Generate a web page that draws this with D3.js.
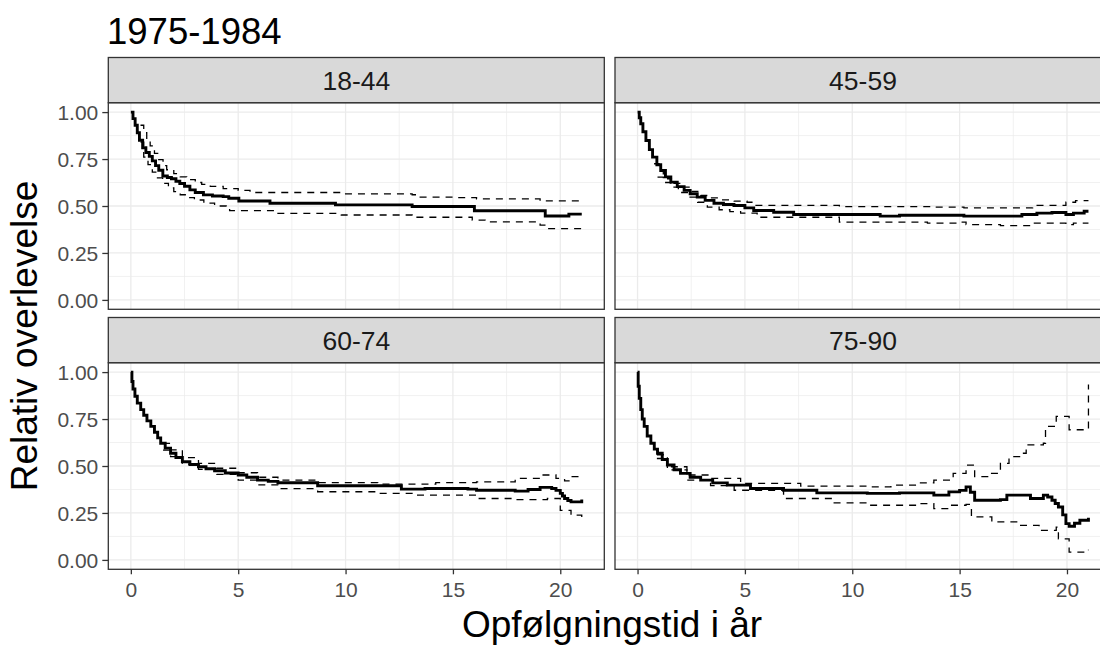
<!DOCTYPE html>
<html>
<head>
<meta charset="utf-8">
<script src="https://cdn.jsdelivr.net/npm/d3@7"></script>
<style>
  body { margin: 0; background: #fff; }
  svg { display: block; font-family: "Liberation Sans", Arial, sans-serif; }
</style>
</head>
<body>
<svg id="chart" width="1100" height="646"></svg>
<script>
// ---------------- data ----------------
const title = "1975-1984";
const xLabel = "Opfølgningstid i år";
const yLabel = "Relativ overlevelse";
const panels = ["18-44", "45-59", "60-74", "75-90"];
const xTicks = [0, 5, 10, 15, 20];
const yTicks = [0, 0.25, 0.5, 0.75, 1];
const yTickLabels = ["0.00", "0.25", "0.50", "0.75", "1.00"];

// 18-44
const t1844 = [0, 0.1, 0.2, 0.3, 0.4, 0.55, 0.7, 0.86, 1.0, 1.15, 1.3, 1.49, 1.7, 1.89, 2.1, 2.28, 2.5, 2.75, 3.0, 3.38, 3.8, 4.3, 4.56, 5.03, 6.48, 9.53, 13.1, 16.0, 19.3, 20.4, 21.0];
const est1844 = [1.0, 0.965, 0.93, 0.89, 0.85, 0.81, 0.785, 0.764, 0.74, 0.715, 0.69, 0.66, 0.652, 0.645, 0.632, 0.62, 0.605, 0.586, 0.572, 0.559, 0.553, 0.55, 0.541, 0.527, 0.515, 0.506, 0.497, 0.475, 0.447, 0.457, 0.457];
const tU1844 = [0.45, 0.6, 0.74, 0.9, 1.1, 1.3, 1.5, 1.67, 2.0, 2.3, 2.6, 3.0, 3.3, 3.7, 4.3, 5.0, 5.55, 9.8, 13.1, 13.3, 15.2, 16.1, 19.06, 19.3, 21.0];
const up1844 = [0.93, 0.89, 0.854, 0.82, 0.78, 0.747, 0.715, 0.693, 0.672, 0.655, 0.64, 0.625, 0.615, 0.604, 0.593, 0.583, 0.572, 0.565, 0.56, 0.547, 0.545, 0.538, 0.532, 0.527, 0.527];
const tL1844 = [0.45, 0.6, 0.8, 1.0, 1.2, 1.48, 1.75, 2.0, 2.3, 2.6, 2.96, 3.4, 3.9, 4.44, 4.6, 6.8, 9.8, 13.1, 15.9, 16.5, 19.06, 19.4, 21.0];
const lo1844 = [0.84, 0.76, 0.72, 0.68, 0.65, 0.62, 0.597, 0.577, 0.56, 0.545, 0.532, 0.515, 0.50, 0.488, 0.475, 0.461, 0.452, 0.44, 0.425, 0.416, 0.398, 0.38, 0.38];

// 45-59
const t4559 = [0, 0.08, 0.15, 0.25, 0.39, 0.55, 0.7, 0.9, 1.08, 1.3, 1.55, 1.85, 2.17, 2.45, 2.78, 3.15, 3.56, 4.0, 4.49, 5.0, 5.41, 6.34, 7.27, 11.3, 12.2, 15.2, 17.9, 18.6, 19.3, 19.95, 20.3, 20.8, 21.0];
const est4559 = [1.0, 0.97, 0.938, 0.895, 0.849, 0.80, 0.76, 0.72, 0.689, 0.655, 0.627, 0.603, 0.583, 0.565, 0.547, 0.53, 0.515, 0.508, 0.503, 0.49, 0.476, 0.467, 0.455, 0.446, 0.451, 0.446, 0.455, 0.462, 0.465, 0.455, 0.462, 0.472, 0.472];
const tU4559 = [0.77, 1.0, 1.2, 1.4, 1.7, 2.0, 2.4, 2.94, 3.4, 3.87, 4.5, 5.1, 5.41, 9.4, 13.8, 15.2, 18.4, 19.95, 20.4, 21.0];
const up4559 = [0.725, 0.69, 0.665, 0.645, 0.62, 0.60, 0.578, 0.556, 0.543, 0.533, 0.526, 0.52, 0.503, 0.497, 0.494, 0.49, 0.503, 0.52, 0.529, 0.529];
const tL4559 = [0.93, 1.2, 1.55, 1.9, 2.32, 2.8, 3.25, 3.8, 4.3, 4.8, 5.57, 9.4, 13.5, 15.0, 15.3, 16.9, 18.4, 19.95, 20.3, 21.0];
const lo4559 = [0.654, 0.625, 0.60, 0.572, 0.547, 0.52, 0.494, 0.48, 0.47, 0.462, 0.44, 0.414, 0.409, 0.414, 0.401, 0.396, 0.409, 0.401, 0.409, 0.409];

// 60-74
const t6074 = [0, 0.05, 0.1, 0.19, 0.3, 0.46, 0.6, 0.75, 0.93, 1.1, 1.25, 1.39, 1.6, 1.85, 2.1, 2.4, 2.75, 3.15, 3.5, 3.9, 4.4, 5.0, 5.4, 5.9, 6.4, 6.85, 8.7, 12.6, 13.7, 15.7, 16.1, 17.9, 18.5, 19.06, 19.6, 19.8, 20.0, 20.1, 20.2, 20.35, 20.5, 21.0];
const est6074 = [1.0, 0.95, 0.91, 0.871, 0.835, 0.80, 0.77, 0.74, 0.711, 0.68, 0.65, 0.621, 0.595, 0.568, 0.545, 0.523, 0.508, 0.496, 0.485, 0.475, 0.463, 0.452, 0.44, 0.425, 0.418, 0.411, 0.395, 0.377, 0.38, 0.377, 0.371, 0.366, 0.375, 0.386, 0.38, 0.37, 0.354, 0.34, 0.327, 0.316, 0.309, 0.321];
const tU6074 = [1.5, 1.85, 2.4, 3.15, 4.0, 5.0, 5.9, 6.85, 8.7, 11.5, 14.2, 16.1, 17.9, 19.06, 19.8, 20.2, 20.5, 21.0];
const up6074 = [0.62, 0.586, 0.545, 0.514, 0.488, 0.464, 0.44, 0.425, 0.411, 0.404, 0.411, 0.416, 0.434, 0.452, 0.434, 0.421, 0.443, 0.443];
const tL6074 = [1.5, 1.85, 2.4, 3.15, 4.0, 5.0, 5.9, 6.85, 8.7, 11.5, 13.3, 16.1, 17.9, 19.4, 20.0, 20.5, 21.0];
const lo6074 = [0.585, 0.55, 0.51, 0.482, 0.455, 0.425, 0.40, 0.38, 0.363, 0.354, 0.345, 0.327, 0.321, 0.327, 0.264, 0.238, 0.225];

// 75-90
const t7590 = [0, 0.03, 0.08, 0.15, 0.22, 0.31, 0.45, 0.62, 0.78, 0.93, 1.15, 1.39, 1.7, 2.0, 2.45, 2.94, 3.5, 4.18, 5.26, 6.8, 8.35, 10.7, 12.2, 13.8, 14.5, 15.0, 15.3, 15.5, 15.7, 16.9, 17.2, 18.3, 18.9, 19.1, 19.3, 19.45, 19.6, 19.8, 19.95, 20.1, 20.35, 20.6, 21.0];
const est7590 = [1.0, 0.925, 0.86, 0.80, 0.75, 0.711, 0.66, 0.621, 0.59, 0.568, 0.535, 0.505, 0.48, 0.461, 0.44, 0.425, 0.41, 0.398, 0.38, 0.371, 0.357, 0.354, 0.357, 0.345, 0.362, 0.37, 0.389, 0.36, 0.318, 0.321, 0.345, 0.327, 0.345, 0.335, 0.318, 0.30, 0.282, 0.24, 0.193, 0.179, 0.195, 0.211, 0.225];
const tU7590 = [0.9, 1.39, 2.3, 3.4, 4.8, 7.6, 10.7, 11.8, 13.0, 13.8, 14.7, 15.3, 15.7, 16.4, 16.9, 17.3, 17.9, 18.1, 18.9, 19.0, 19.5, 20.1, 21.0, 21.0];
const up7590 = [0.56, 0.496, 0.452, 0.434, 0.407, 0.393, 0.389, 0.398, 0.41, 0.425, 0.461, 0.505, 0.443, 0.461, 0.514, 0.55, 0.568, 0.613, 0.621, 0.711, 0.764, 0.693, 0.693, 0.934];
const tL7590 = [0.9, 1.39, 2.3, 3.4, 4.5, 6.8, 9.1, 10.7, 13.0, 13.8, 14.5, 15.3, 15.55, 16.5, 17.8, 18.7, 19.5, 19.6, 20.1, 21.0];
const lo7590 = [0.54, 0.479, 0.425, 0.395, 0.371, 0.327, 0.304, 0.291, 0.30, 0.273, 0.291, 0.296, 0.229, 0.202, 0.184, 0.157, 0.175, 0.112, 0.041, 0.054];

const series = [
  { t: t1844, e: est1844, tu: tU1844, u: up1844, tl: tL1844, l: lo1844 },
  { t: t4559, e: est4559, tu: tU4559, u: up4559, tl: tL4559, l: lo4559 },
  { t: t6074, e: est6074, tu: tU6074, u: up6074, tl: tL6074, l: lo6074 },
  { t: t7590, e: est7590, tu: tU7590, u: up7590, tl: tL7590, l: lo7590 }
];

// ---------------- layout ----------------
const svg = d3.select("#chart");
const panelW = 496, panelH = 206.6, stripH = 45.2;
const colX = [108.3, 615];
const rowStripY = [57.5, 317.5];
const xMin = 0, xMax = 21;
const xPad = (xMax - xMin) * 0.05;
const font = "Liberation Sans, Arial, sans-serif";

svg.append("text")
  .attr("x", 107).attr("y", 44)
  .attr("font-size", 36.5).attr("fill", "#000")
  .text(title);

panels.forEach((name, i) => {
  const col = i % 2, row = Math.floor(i / 2);
  const px = colX[col];
  const sy = rowStripY[row];
  const py = sy + stripH;
  const s = series[i];

  const x = d3.scaleLinear().domain([xMin - xPad, xMax + xPad]).range([px, px + panelW]);
  const y = d3.scaleLinear().domain([-0.05, 1.05]).range([py + panelH, py]);

  const g = svg.append("g");
  g.append("rect").attr("x", px).attr("y", py).attr("width", panelW).attr("height", panelH).attr("fill", "#fff");

  // minor grid
  const xMinor = [2.5, 7.5, 12.5, 17.5];
  const yMinor = [0.125, 0.375, 0.625, 0.875];
  g.selectAll(".xm").data(xMinor).enter().append("line")
    .attr("x1", d => x(d)).attr("x2", d => x(d)).attr("y1", py).attr("y2", py + panelH)
    .attr("stroke", "#EBEBEB").attr("stroke-width", 0.7);
  g.selectAll(".ym").data(yMinor).enter().append("line")
    .attr("y1", d => y(d)).attr("y2", d => y(d)).attr("x1", px).attr("x2", px + panelW)
    .attr("stroke", "#EBEBEB").attr("stroke-width", 0.7);
  // major grid
  g.selectAll(".xg").data(xTicks).enter().append("line")
    .attr("x1", d => x(d)).attr("x2", d => x(d)).attr("y1", py).attr("y2", py + panelH)
    .attr("stroke", "#EBEBEB").attr("stroke-width", 1.3);
  g.selectAll(".yg").data(yTicks).enter().append("line")
    .attr("y1", d => y(d)).attr("y2", d => y(d)).attr("x1", px).attr("x2", px + panelW)
    .attr("stroke", "#EBEBEB").attr("stroke-width", 1.3);

  const clipId = "clip" + i;
  svg.append("clipPath").attr("id", clipId).append("rect")
    .attr("x", px).attr("y", py).attr("width", panelW).attr("height", panelH);

  const line = d3.line().curve(d3.curveStepAfter).x(d => x(d[0])).y(d => y(d[1]));
  const lg = g.append("g").attr("clip-path", `url(#${clipId})`);
  lg.append("path").datum(s.tu.map((t, k) => [t, s.u[k]]))
    .attr("d", line).attr("fill", "none").attr("stroke", "#000")
    .attr("stroke-width", 1.3).attr("stroke-dasharray", "7,6");
  lg.append("path").datum(s.tl.map((t, k) => [t, s.l[k]]))
    .attr("d", line).attr("fill", "none").attr("stroke", "#000")
    .attr("stroke-width", 1.3).attr("stroke-dasharray", "7,6");
  lg.append("path").datum(s.t.map((t, k) => [t, s.e[k]]))
    .attr("d", line).attr("fill", "none").attr("stroke", "#000")
    .attr("stroke-width", 2.9);

  // panel border
  g.append("rect").attr("x", px).attr("y", py).attr("width", panelW).attr("height", panelH)
    .attr("fill", "none").attr("stroke", "#333333").attr("stroke-width", 1.3);

  // strip
  g.append("rect").attr("x", px).attr("y", sy).attr("width", panelW).attr("height", stripH)
    .attr("fill", "#D9D9D9").attr("stroke", "#333333").attr("stroke-width", 1.3);
  g.append("text").attr("x", px + panelW / 2).attr("y", sy + stripH / 2 + 9.5)
    .attr("text-anchor", "middle").attr("font-size", 26.5).attr("fill", "#1A1A1A")
    .text(name);

  // y axis on left column
  if (col === 0) {
    const ya = d3.axisLeft(y).tickValues(yTicks).tickFormat((d, k) => yTickLabels[k]).tickSize(6).tickPadding(4);
    const yg = svg.append("g").attr("transform", `translate(${px},0)`).call(ya);
    yg.select(".domain").remove();
    yg.selectAll(".tick line").attr("stroke", "#333333").attr("stroke-width", 1.3);
    yg.selectAll(".tick text").attr("font-size", 21).attr("fill", "#4D4D4D")
      .attr("font-family", font).attr("dy", "0.36em");
  }
  // x axis on bottom row
  if (row === 1) {
    const xa = d3.axisBottom(x).tickValues(xTicks).tickFormat(d3.format("d")).tickSize(5).tickPadding(8);
    const xg = svg.append("g").attr("transform", `translate(0,${py + panelH})`).call(xa);
    xg.select(".domain").remove();
    xg.selectAll(".tick line").attr("stroke", "#333333").attr("stroke-width", 1.3);
    xg.selectAll(".tick text").attr("font-size", 21).attr("fill", "#4D4D4D")
      .attr("font-family", font);
  }
});

svg.append("text")
  .attr("x", 612).attr("y", 637)
  .attr("text-anchor", "middle").attr("font-size", 37).attr("fill", "#000")
  .text(xLabel);

svg.append("text")
  .attr("transform", "translate(37,336) rotate(-90)")
  .attr("text-anchor", "middle").attr("font-size", 37).attr("fill", "#000")
  .text(yLabel);
</script>
</body>
</html>
